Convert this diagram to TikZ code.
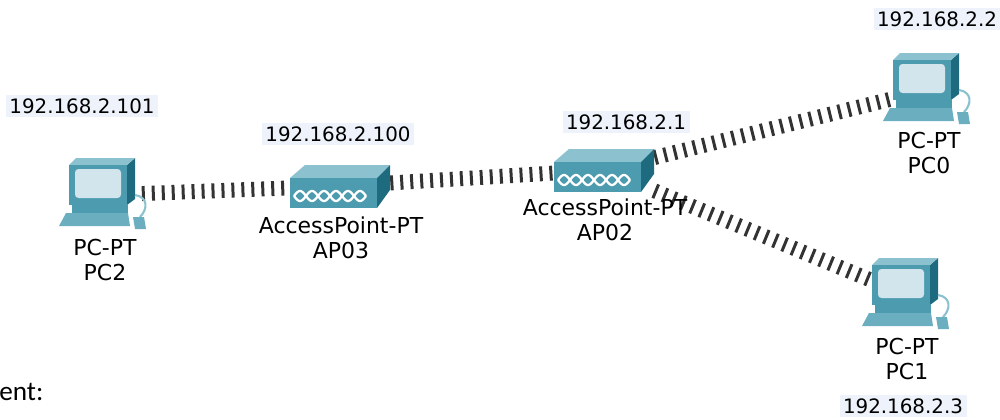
\documentclass[tikz,border=0pt]{standalone}
\usepackage{fontspec}
\setmainfont{DejaVu Sans}
\newfontfamily\docfont{Carlito}
\definecolor{tealfront}{HTML}{4D9BAF}
\definecolor{tealkey}{HTML}{6AAEC0}
\definecolor{tealtop}{HTML}{8CC1CF}
\definecolor{tealside}{HTML}{1E6A7F}
\definecolor{screenblue}{HTML}{D2E5EC}
\definecolor{ipback}{HTML}{EEF2FA}
\definecolor{linkgray}{HTML}{333333}
\tikzset{
  wlink/.style={draw=linkgray, line width=8.5pt, dash pattern=on 1.7pt off 3.97pt},
  pcbox/.style={inner sep=0pt, minimum width=1.5cm, minimum height=1.4cm},
  apbox/.style={inner sep=0pt, minimum width=2cm, minimum height=0.86cm},
  devlabel/.style={align=center, inner sep=0pt, font=\fontsize{12.5}{14.2}\selectfont},
  iplabel/.style={fill=ipback, inner sep=2pt, font=\fontsize{11.3}{13}\selectfont},
  pcicon/.pic={
    %monitor
    \fill[tealside] (23,-30) -- (31,-37) -- (31,4) -- (23,10) -- cycle;
    \fill[tealtop] (-35,-30) -- (-28,-37) -- (31,-37) -- (23,-30) -- cycle;
    \fill[tealfront] (-35,-30) rectangle (23,10);
    \fill[screenblue, rounded corners=2pt] (-29,-26) rectangle (17,3);
    %stand, keyboard, mouse
    \fill[tealfront] (-32,10) rectangle (24,18);
    \fill[tealkey] (-38,18) -- (24,18) -- (26,31) -- (-45,31) -- cycle;
    \draw[tealtop, line width=1.2pt] (31,0) .. controls (44,2) and (44,14) .. (36,22);
    \fill[tealkey] (29,22) -- (40,22) -- (42,34) -- (31,34) -- cycle;
  },
  apicon/.pic={
    \fill[tealtop] (-50,-8) -- (-35,-21) -- (50,-21) -- (37,-8) -- cycle;
    \fill[tealside] (37,-8) -- (50,-21) -- (50,4) -- (37,22) -- cycle;
    \fill[tealfront] (-50,-8) rectangle (37,22);
    \draw[white, line width=1.3pt] plot[domain=-46:26, samples=90] (\x, {10+5*sin(15*(\x+46))});
    \draw[white, line width=1.3pt] plot[domain=-46:26, samples=90] (\x, {10-5*sin(15*(\x+46))});
  }
}
\begin{document}
\begin{tikzpicture}[x=0.02cm, y=-0.02cm]
    \useasboundingbox (0,0) rectangle (1000,419);
    %devices
    \node[pcbox] (pc2) at (104,195) {};
    \node[apbox] (ap03) at (340,186) {};
    \node[apbox] (ap02) at (604,170) {};
    \node[pcbox] (pc0) at (928,90) {};
    \node[pcbox] (pc1) at (907,295) {};
    %wireless links
    \draw[wlink] (pc2) -- (ap03);
    \draw[wlink] (ap03) -- (ap02);
    \draw[wlink] (ap02) -- (pc0);
    \draw[wlink] (ap02) -- (pc1);
    %icons
    \pic at (pc2) {pcicon};
    \pic at (pc0) {pcicon};
    \pic at (pc1) {pcicon};
    \pic at (ap03) {apicon};
    \pic at (ap02) {apicon};
    %names
    \node[devlabel] (pc2name) at (105,260) {PC-PT\\PC2};
    \node[devlabel] (ap03name) at (341,238) {AccessPoint-PT\\AP03};
    \node[devlabel] (ap02name) at (605,220) {AccessPoint-PT\\AP02};
    \node[devlabel] (pc0name) at (929,153) {PC-PT\\PC0};
    \node[devlabel] (pc1name) at (907,359) {PC-PT\\PC1};
    %addresses
    \node[iplabel] (pc2ip) at (82,106) {192.168.2.101};
    \node[iplabel] (ap03ip) at (338,134) {192.168.2.100};
    \node[iplabel] (ap02ip) at (626,122) {192.168.2.1};
    \node[iplabel] (pc0ip) at (937,19) {192.168.2.2};
    \node[iplabel] (pc1ip) at (903,406) {192.168.2.3};
    \node[anchor=west, inner sep=0pt, font=\docfont\fontsize{15.5}{18}\selectfont] (doctext) at (-1,392) {ent:};
\end{tikzpicture}
\end{document}
